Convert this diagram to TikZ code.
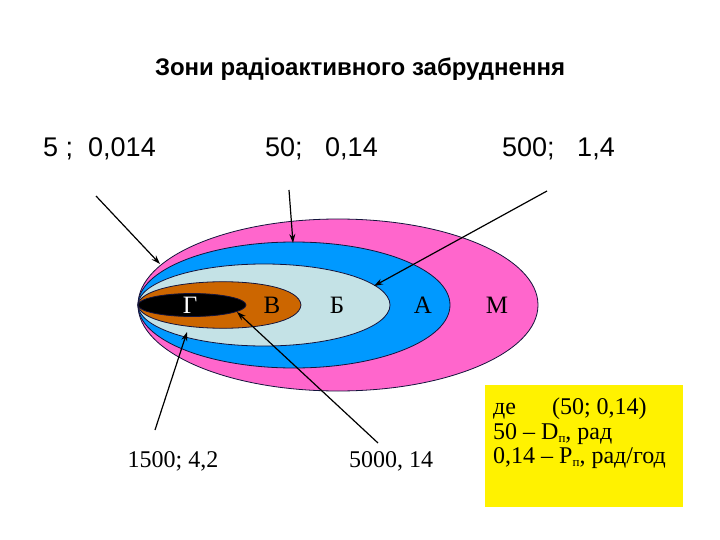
\documentclass[tikz,border=0pt]{standalone}
\usepackage{fontspec}
\setmainfont{Liberation Serif}
\newfontfamily\arialf{Liberation Sans}
\usetikzlibrary{arrows.meta}
\definecolor{zpink}{RGB}{255,102,204}
\definecolor{zblue}{RGB}{0,153,255}
\definecolor{zlight}{RGB}{196,226,230}
\definecolor{zorange}{RGB}{204,102,0}
\definecolor{zline}{RGB}{20,20,60}
\newcommand{\lowsub}[1]{\raisebox{-3.5pt}{\fontsize{13}{13}\selectfont #1}}
\begin{document}
\begin{tikzpicture}[x=1pt,y=-1pt,
  zone/.style={draw=zline, line width=0.8pt},
  ptr/.style={draw=black, line width=1.2pt, -{Stealth[length=9pt,width=6pt]}},
  zlab/.style={font=\fontsize{25}{28}\selectfont, anchor=base, inner sep=0pt},
  numlab/.style={font=\arialf\fontsize{27}{32}\selectfont, anchor=base west, inner sep=0pt},
  serlab/.style={font=\fontsize{24}{28}\selectfont, anchor=base, inner sep=0pt},
  legtext/.style={font=\fontsize{24}{28}\selectfont, anchor=base west, inner sep=0pt}]
\useasboundingbox (0,0) rectangle (720,540);
\fill[white] (0,0) rectangle (720,540);

% title
\node[font=\arialf\bfseries\fontsize{24}{28}\selectfont, anchor=base, inner sep=0pt] (title) at (360,76) {Зони радіоактивного забруднення};

% upper labels
\node[numlab] (u1) at (43,157) {5 ;\ \ 0,014};
\node[numlab] (u2) at (265,157) {50;\ \ \ 0,14};
\node[numlab] (u3) at (502,157) {500;\ \ \ 1,4};

% zones
\draw[zone, fill=zpink] (338,305) ellipse [x radius=200, y radius=86];
\draw[zone, fill=zblue] (294,305) ellipse [x radius=156, y radius=63];
\draw[zone, fill=zlight] (264,305) ellipse [x radius=126, y radius=41];
\draw[zone, fill=zorange] (138,305) .. controls (140,276) and (298,272) .. (301,305)
  .. controls (298,338) and (140,334) .. (138,305) -- cycle;
\draw[zone, fill=black] (192,305) ellipse [x radius=54, y radius=11.5];

% zone labels
\node[zlab, text=white] (zg) at (190,313) {Г};
\node[zlab] (zv) at (272,313) {В};
\node[zlab] (zb) at (337,313) {Б};
\node[zlab] (za) at (423,313) {А};
\node[zlab] (zm) at (497,313) {М};

% lower labels
\node[serlab] (d1) at (173,467) {1500; 4,2};
\node[serlab] (d2) at (391,467) {5000, 14};

% legend
\node[fill=yellow, minimum width=198pt, minimum height=122pt, inner sep=0pt, anchor=north west] (legend) at (485,385) {};
\node[legtext] (l1) at (493,414) {де\hspace{36pt}(50; 0,14)};
\node[legtext] (l2) at (493,439) {50 – D\lowsub{п}, рад};
\node[legtext] (l3) at (493,463) {0,14 – P\lowsub{п}, рад/год};

% arrow coordinates
\coordinate (s1) at (96,196);   \coordinate (e1) at (160,264);
\coordinate (s2) at (289,190);  \coordinate (e2) at (293,243);
\coordinate (s3) at (547,191);  \coordinate (e3) at (374,286);
\coordinate (s4) at (155,430);  \coordinate (e4) at (187,332);
\coordinate (s5) at (378,443);  \coordinate (e5) at (237,312);

\draw[ptr] (s1) -- (e1);
\draw[ptr] (s2) -- (e2);
\draw[ptr] (s3) -- (e3);
\draw[ptr] (s4) -- (e4);
\draw[ptr] (s5) -- (e5);
\end{tikzpicture}
\end{document}
